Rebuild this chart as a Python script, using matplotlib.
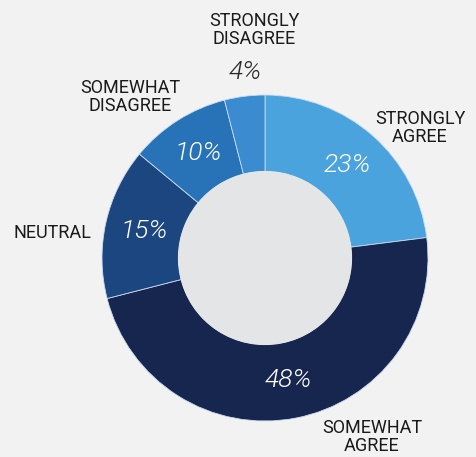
import matplotlib
matplotlib.use("Agg")
import matplotlib.pyplot as plt

# survey responses
labels = ["STRONGLY\nAGREE", "SOMEWHAT\nAGREE", "NEUTRAL", "SOMEWHAT\nDISAGREE", "STRONGLY\nDISAGREE"]
values = [23, 48, 15, 10, 4]
colors = ["#4aa3dc", "#16264f", "#1c4680", "#2872b8", "#3a8bcf"]

bg = "#f2f2f2"
hole = "#e4e5e7"

W, H = 477, 457
cx, cy, R = 265, 258, 163  # pixel centre / radius of the ring

plt.rcParams["font.family"] = ["Roboto", "DejaVu Sans"]

fig = plt.figure(figsize=(W / 100, H / 100), dpi=100, facecolor=bg)
ax = fig.add_axes([0, 0, 1, 1])
ax.set_facecolor(bg)

wedges, texts, autotexts = ax.pie(
    values, colors=colors, startangle=90, counterclock=False,
    radius=1, pctdistance=0.76,
    autopct=lambda p: f"{p:.0f}%",
    wedgeprops=dict(width=0.47, edgecolor="#c9dcef", linewidth=0.6),
    textprops=dict(color="white", fontsize=19, style="italic", weight=300),
)
ax.add_patch(plt.Circle((0, 0), 0.53, color=hole, zorder=3))

# the small slice gets its number outside the ring
autotexts[4].set_position((-20 / R, 186 / R))
autotexts[4].set_color("#2a2a2a")


def px(x, y):
    return (x - cx) / R, (cy - y) / R


label_pos = [(420, 128), (372, 437), (52, 233), (130, 97), (254, 30)]
for lab, (x, y) in zip(labels, label_pos):
    ax.text(*px(x, y), lab, ha="center", va="center", fontsize=13,
            color="#1a1a1a", linespacing=1.05)

ax.set_xlim(-cx / R, (W - cx) / R)
ax.set_ylim(-(H - cy) / R, cy / R)
ax.set_aspect("equal")
ax.axis("off")

fig.savefig("out.png", dpi=100, facecolor=bg)
